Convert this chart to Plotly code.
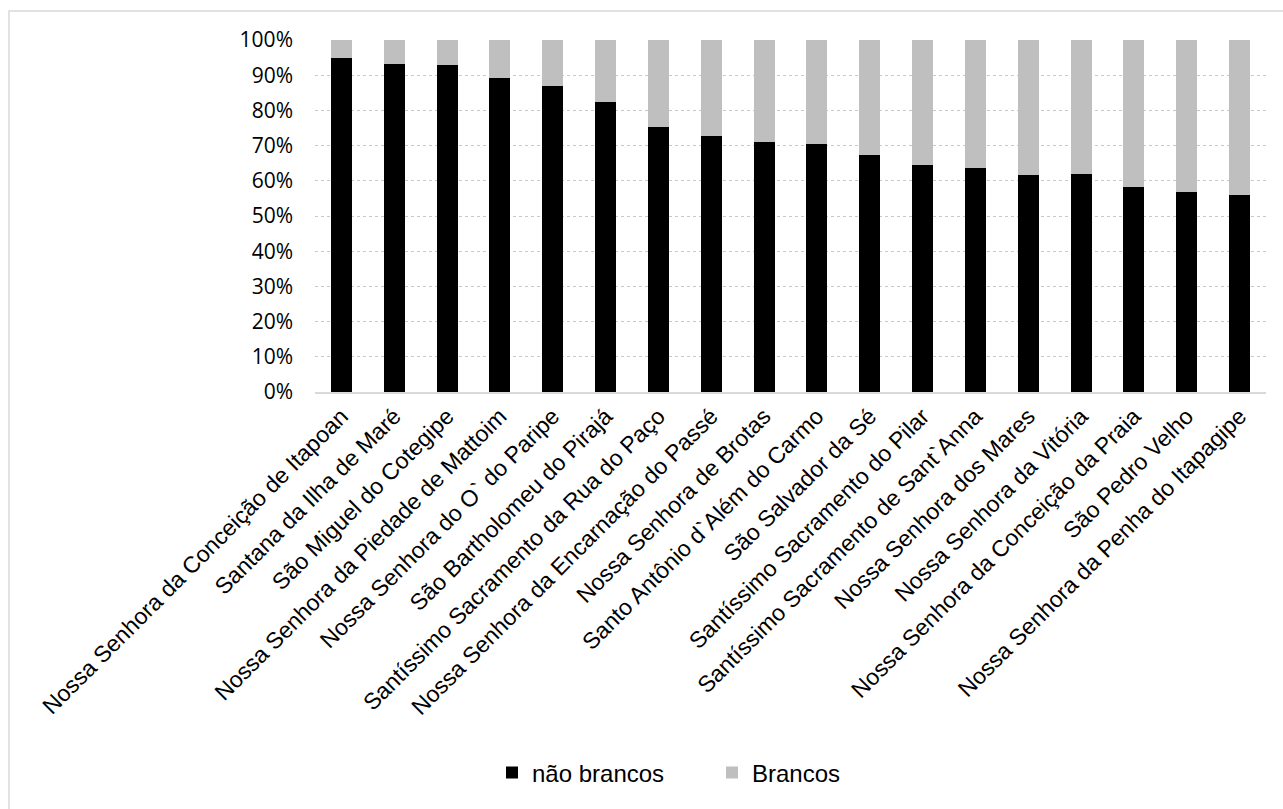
import plotly.graph_objects as go

categories = [
    "Nossa Senhora da Conceição de Itapoan",
    "Santana da Ilha de Maré",
    "São Miguel do Cotegipe",
    "Nossa Senhora da Piedade de Mattoim",
    "Nossa Senhora do O` do Paripe",
    "São Bartholomeu do Pirajá",
    "Santíssimo Sacramento da Rua do Paço",
    "Nossa Senhora da Encarnação do Passé",
    "Nossa Senhora de Brotas",
    "Santo Antônio d`Além do Carmo",
    "São Salvador da Sé",
    "Santíssimo Sacramento do Pilar",
    "Santíssimo Sacramento de Sant`Anna",
    "Nossa Senhora dos Mares",
    "Nossa Senhora da Vitória",
    "Nossa Senhora da Conceição da Praia",
    "São Pedro Velho",
    "Nossa Senhora da Penha do Itapagipe",
]
nao_brancos = [95.0, 93.3, 93.0, 89.1, 86.8, 82.4, 75.4, 72.7, 71.0, 70.5,
               67.3, 64.5, 63.6, 61.6, 61.8, 58.3, 56.8, 55.9]
brancos = [round(100 - v, 1) for v in nao_brancos]
y_ticks = [0, 10, 20, 30, 40, 50, 60, 70, 80, 90, 100]
y_tick_labels = [f"{t}%" for t in y_ticks]

W, H = 1283, 809
L, R, T, B = 315, 17, 40, 417
pw, ph = W - L - R, H - T - B

fig = go.Figure()
fig.add_trace(go.Bar(name="não brancos", x=categories, y=nao_brancos,
                     marker=dict(color="#000000", line=dict(width=0))))
fig.add_trace(go.Bar(name="Brancos", x=categories, y=brancos,
                     marker=dict(color="#bfbfbf", line=dict(width=0))))

# outer chart border
fig.add_shape(type="rect", xref="paper", yref="paper",
              x0=(9 - L) / pw, x1=(W + 5 - L) / pw,
              y0=(H - B - (H + 5)) / ph, y1=(H - B - 11) / ph,
              line=dict(color="#d9d9d9", width=1.5), fillcolor="rgba(0,0,0,0)",
              layer="below")

fig.update_layout(
    barmode="stack",
    bargap=0.6,
    width=W, height=H,
    margin=dict(l=L, r=R, t=T, b=B, autoexpand=False),
    plot_bgcolor="white",
    paper_bgcolor="white",
    font=dict(family="Liberation Sans, Arial", color="#000000"),
    legend=dict(orientation="h", x=(492 - L) / pw, xanchor="left",
                y=(H - B - 773) / ph, yanchor="middle",
                font=dict(size=24, family="Liberation Sans, Arial"),
                traceorder="normal", itemwidth=30,
                entrywidth=175, entrywidthmode="pixels"),
    xaxis=dict(tickangle=-45, tickfont=dict(size=23, family="Liberation Sans, Arial"),
               showline=True, linecolor="#d9d9d9", linewidth=1.5,
               ticks="", showgrid=False),
    yaxis=dict(range=[0, 100], tickvals=y_ticks, ticktext=y_tick_labels,
               tickfont=dict(size=21, family="Open Sans"),
               showgrid=True, gridcolor="#c8c8c8", griddash="dot", gridwidth=1,
               zeroline=False, showline=False, ticks="",
               ticklabelstandoff=21),
)

fig.write_html("out.html")
